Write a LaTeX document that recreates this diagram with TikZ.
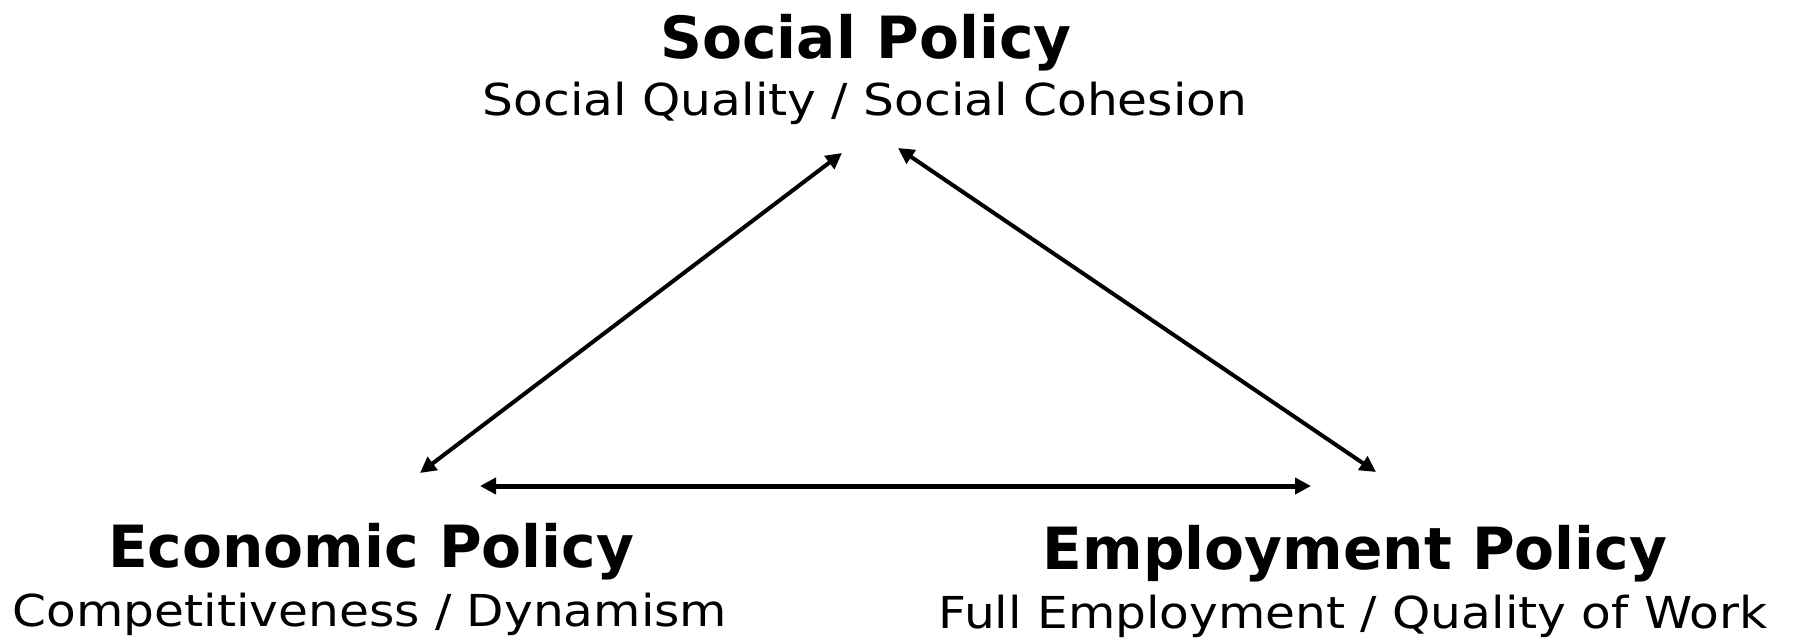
\documentclass[tikz,border=0pt]{standalone}
\usepackage{fontspec}
\setmainfont{DejaVu Sans}
\newfontfamily\subfont[FakeStretch=1.105]{DejaVu Sans}
\usetikzlibrary{arrows.meta}
\begin{document}
\begin{tikzpicture}[x=0.5pt,y=-0.5pt,
  title/.style={anchor=base,inner sep=0pt,font=\fontsize{29.1}{31}\selectfont\bfseries},
  subtitle/.style={anchor=base,inner sep=0pt,font=\subfont\fontsize{22}{24}\selectfont},
  link/.style={line width=2pt,{Triangle[length=8pt,width=8pt]}-{Triangle[length=8pt,width=8pt]}},
  baselink/.style={link,line width=2.5pt}]
\useasboundingbox (0,0) rectangle (1796,638);

% policy areas
\node[title]    (soc)    at (866,58)  {Social Policy};
\node[subtitle] (socsub) at (865,115) {Social Quality / Social Cohesion};
\node[title]    (eco)    at (371,567) {Economic Policy};
\node[subtitle] (ecosub) at (370,626) {Competitiveness / Dynamism};
\node[title]    (emp)    at (1355,569) {Employment Policy};
\node[subtitle] (empsub) at (1353,628) {Full Employment / Quality of Work};

% arrow ends around each area
\coordinate (socL) at (842,153);
\coordinate (socR) at (898,148);
\coordinate (ecoT) at (420,473);
\coordinate (ecoR) at (480,486);
\coordinate (empT) at (1376,472);
\coordinate (empL) at (1311,486);

% mutual influences
\draw[link] (ecoT) -- (socL);
\draw[link] (socR) -- (empT);
\draw[baselink] (ecoR) -- (empL);
\end{tikzpicture}
\end{document}
